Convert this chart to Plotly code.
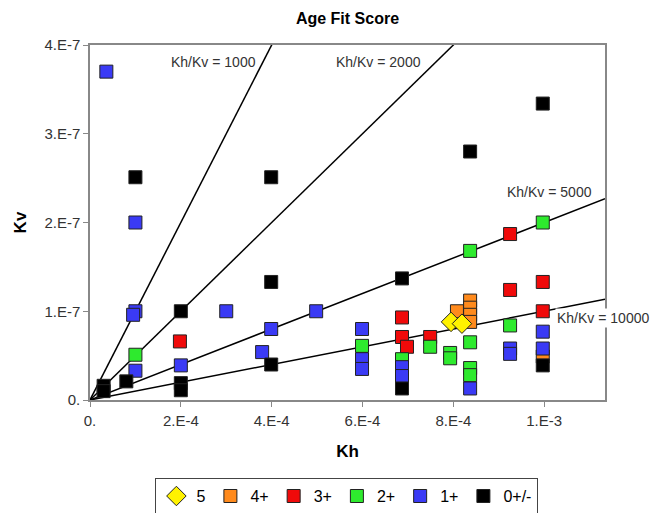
import plotly.graph_objects as go

# ---- data (Kh, Kv) per age-fit score category ----
score5_kh = [7.95e-4, 8.19e-4]
score5_kv = [0.88e-7, 0.86e-7]

score4_kh = [8.08e-4, 8.37e-4, 8.37e-4, 8.37e-4, 8.37e-4, 9.97e-4]
score4_kv = [1.00e-7, 1.12e-7, 1.04e-7, 0.96e-7, 0.88e-7, 0.49e-7]

score3_kh = [1.98e-4, 6.87e-4, 6.87e-4, 6.98e-4, 7.49e-4, 9.25e-4, 9.25e-4, 9.97e-4, 9.97e-4]
score3_kv = [0.66e-7, 0.93e-7, 0.71e-7, 0.60e-7, 0.71e-7, 1.87e-7, 1.24e-7, 1.33e-7, 1.00e-7]

score2_kh = [1.0e-4, 5.99e-4, 6.87e-4, 7.49e-4, 7.93e-4, 7.93e-4, 8.37e-4, 8.37e-4, 8.37e-4,
             8.37e-4, 9.25e-4, 9.97e-4]
score2_kv = [0.51e-7, 0.61e-7, 0.46e-7, 0.60e-7, 0.53e-7, 0.47e-7, 1.68e-7, 0.65e-7, 0.36e-7,
             0.28e-7, 0.84e-7, 2.00e-7]

score1_kh = [0.36e-4, 1.0e-4, 1.0e-4, 0.95e-4, 1.0e-4, 2.0e-4, 3.0e-4, 3.79e-4, 3.99e-4,
             4.98e-4, 5.99e-4, 5.99e-4, 5.99e-4, 6.87e-4, 6.87e-4, 8.37e-4, 9.25e-4, 9.25e-4,
             9.97e-4, 9.97e-4]
score1_kv = [3.70e-7, 2.00e-7, 1.00e-7, 0.96e-7, 0.33e-7, 0.39e-7, 1.00e-7, 0.54e-7, 0.80e-7,
             1.00e-7, 0.80e-7, 0.46e-7, 0.35e-7, 0.37e-7, 0.27e-7, 0.13e-7, 0.58e-7, 0.52e-7,
             0.77e-7, 0.58e-7]

score0_kh = [0.3e-4, 0.3e-4, 0.8e-4, 1.0e-4, 2.0e-4, 2.0e-4, 2.0e-4, 3.99e-4, 3.99e-4, 3.99e-4,
             6.87e-4, 6.87e-4, 8.37e-4, 9.97e-4, 9.97e-4]
score0_kv = [0.16e-7, 0.10e-7, 0.21e-7, 2.51e-7, 1.00e-7, 0.19e-7, 0.11e-7, 2.51e-7, 1.33e-7,
             0.40e-7, 1.37e-7, 0.13e-7, 2.80e-7, 3.34e-7, 0.39e-7]

ratios = [1000, 2000, 5000, 10000]
ratio_labels = ["Kh/Kv = 1000", "Kh/Kv = 2000", "Kh/Kv = 5000", "Kh/Kv = 10000"]
label_kh = [2.71e-4, 6.35e-4, 1.0125e-3, 1.024e-3]
label_kv = [3.81e-7, 3.81e-7, 2.346e-7, 0.92e-7]

x_max = 1.134e-3
y_max = 4.0e-7
x_tickvals = [0, 2e-4, 4e-4, 6e-4, 8e-4, 1e-3]
x_ticktext = ["0.", "2.E-4", "4.E-4", "6.E-4", "8.E-4", "1.E-3"]
y_tickvals = [0, 1e-7, 2e-7, 3e-7, 4e-7]
y_ticktext = ["0.", "1.E-7", "2.E-7", "3.E-7", "4.E-7"]

FONT = "Arial, Liberation Sans, sans-serif"

fig = go.Figure()

# ratio lines Kv = Kh / ratio
for r in ratios:
    fig.add_trace(go.Scatter(x=[0, x_max], y=[0, x_max / r], mode="lines",
                             line=dict(color="black", width=1.5),
                             showlegend=False, hoverinfo="skip"))

series = [
    ("4+", score4_kh, score4_kv, "#FF8A1C", "square", 13, 2),
    ("3+", score3_kh, score3_kv, "#F00A0A", "square", 13, 3),
    ("2+", score2_kh, score2_kv, "#2EEA2E", "square", 13, 4),
    ("1+", score1_kh, score1_kv, "#3A3AF5", "square", 13, 5),
    ("0+/-", score0_kh, score0_kv, "#000000", "square", 13, 6),
    ("5", score5_kh, score5_kv, "#FFF200", "diamond", 15, 1),
]
for name, xs, ys, col, sym, sz, rank in series:
    fig.add_trace(go.Scatter(x=xs, y=ys, mode="markers", name=name, legendrank=rank,
                             marker=dict(symbol=sym, size=sz, color=col,
                                         line=dict(color="#222222", width=1))))

for txt, lx, ly in zip(ratio_labels, label_kh, label_kv):
    anchor = "left" if txt.endswith("10000") else "center"
    fig.add_annotation(x=lx, y=ly, text=txt, showarrow=False, xanchor=anchor,
                       font=dict(family=FONT, size=14, color="#333333"),
                       bgcolor="white" if anchor == "left" else "rgba(0,0,0,0)")

axis_common = dict(showgrid=False, zeroline=False, showline=True, linecolor="#888888",
                   linewidth=1.5, mirror=True, ticks="outside", ticklen=5,
                   tickcolor="#888888", tickfont=dict(family=FONT, size=15, color="#333333"))

fig.update_xaxes(range=[0, x_max], tickvals=x_tickvals, ticktext=x_ticktext,
                 ticklabelstandoff=1,
                 title=dict(text="<b>Kh</b>", font=dict(family=FONT, size=17, color="black"),
                            standoff=17), **axis_common)
fig.update_yaxes(range=[0, y_max], tickvals=y_tickvals, ticktext=y_ticktext,
                 title=dict(text="<b>Kv</b>", font=dict(family=FONT, size=17, color="black"),
                            standoff=13), **axis_common)

fig.update_layout(
    width=651, height=513,
    margin=dict(l=90, r=46, t=45, b=113, autoexpand=False),
    paper_bgcolor="white", plot_bgcolor="white",
    title=dict(text="<b>Age Fit Score</b>", x=0.5, xref="paper", y=0.965, yref="container",
               yanchor="middle", font=dict(family=FONT, size=16, color="black")),
    legend=dict(orientation="h", x=0.127, y=-0.22, xanchor="left", yanchor="top",
                bordercolor="#444444", borderwidth=1, bgcolor="white",
                font=dict(family=FONT, size=16, color="black"),
                itemwidth=30, traceorder="normal"),
    showlegend=True,
)

# remove the browser's default 8px body margin so the figure sits at the page origin
fig.write_html("out.html", config={"displayModeBar": False},
               post_script="document.body.style.margin='0px';document.body.style.overflow='hidden';")
